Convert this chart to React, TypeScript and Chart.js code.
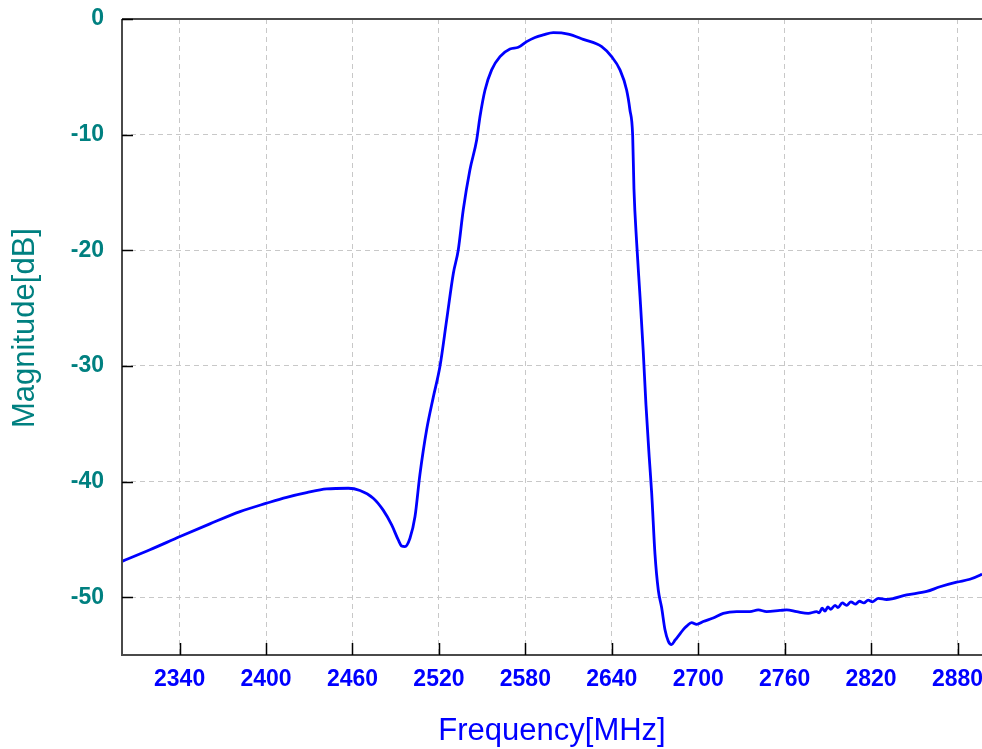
import React, { useEffect, useRef } from "react";
import { Chart, registerables } from "chart.js";

Chart.register(...registerables);

const frequencyMHz = [
  2300, 2319.4, 2340.3, 2361, 2381.9, 2400.4, 2414.3, 2428.2, 2442.1, 2457.1,
  2465.2, 2474.4, 2481.2, 2487.2, 2491.8, 2494.1, 2496.4, 2499.9, 2503.4, 2506.8,
  2511.5, 2516.1, 2520.7, 2525.4, 2530.0, 2533.4, 2536.9, 2541.5, 2546.2, 2548.5,
  2552.0, 2556.6, 2562.4, 2569.3, 2575.1, 2580.9, 2586.7, 2592.4, 2599.4, 2609.8,
  2620.2, 2633.0, 2639.9, 2645.7, 2650.3, 2652.6, 2654.5, 2655.4, 2657.3, 2659.6,
  2661.8, 2663.7, 2666.0, 2667.7, 2670.0, 2672.3, 2674.6, 2676.9, 2679.2, 2681.5,
  2684.0, 2687.2, 2689.6, 2692.0, 2695.4, 2698.9, 2703.5, 2710.4, 2717.4, 2726.7,
  2735.9, 2741.7, 2747.5, 2756.7, 2761.4, 2768.3, 2776.4, 2782.2, 2784, 2786,
  2788, 2790, 2792, 2795, 2797, 2800, 2803, 2806, 2809, 2812,
  2815, 2818, 2821, 2825, 2830.8, 2844.7, 2858.6, 2867.8, 2879.4, 2888.6,
  2895.5, 2897,
];

const magnitudeDb = [
  -46.9, -45.9, -44.76, -43.66, -42.6, -41.87, -41.36, -40.96, -40.64, -40.58,
  -40.78, -41.44, -42.45, -43.75, -45.05, -45.57, -45.62, -44.9, -43.03, -39.4,
  -35.5, -32.7, -30.06, -26.0, -22.0, -20.0, -16.5, -13.06, -10.46, -8.45,
  -6.14, -4.4, -3.26, -2.6, -2.45, -1.96, -1.6, -1.38, -1.18, -1.3,
  -1.76, -2.39, -3.26, -4.4, -6.14, -7.87, -10.1, -14.7, -19.4, -24.0,
  -28.65, -33.3, -37.9, -41.0, -46.3, -49.4, -50.9, -52.8, -53.8, -54.1,
  -53.7, -53.2, -52.8, -52.5, -52.2, -52.35, -52.1, -51.8, -51.4, -51.25,
  -51.25, -51.1, -51.25, -51.15, -51.1, -51.25, -51.4, -51.25, -51.35, -50.95,
  -51.2, -50.85, -51.05, -50.7, -50.9, -50.5, -50.7, -50.4, -50.6, -50.35,
  -50.5, -50.25, -50.4, -50.1, -50.2, -49.8, -49.5, -49.1, -48.7, -48.45,
  -48.1, -48.0,
];

const xTickValues = [2340, 2400, 2460, 2520, 2580, 2640, 2700, 2760, 2820, 2880];
const yTickValues = [-50, -40, -30, -20, -10, 0];

const xTitle = "Frequency[MHz]";
const yTitle = "Magnitude[dB]";

const TEAL = "#008080";
const BLUE = "#0000ff";
const FONT = '"Liberation Sans", Arial, sans-serif';

const framePlugin = {
  id: "frame",
  afterDraw(chart: any) {
    const { ctx, chartArea, scales } = chart;
    const { left, right, top, bottom } = chartArea;
    ctx.save();
    // frame
    ctx.setLineDash([]);
    ctx.strokeStyle = "#4a4a4a";
    ctx.lineWidth = 2;
    ctx.beginPath();
    ctx.moveTo(left, top);
    ctx.lineTo(right + 2, top);
    ctx.moveTo(left, top);
    ctx.lineTo(left, bottom);
    ctx.lineTo(right + 2, bottom);
    ctx.stroke();
    // inward tick marks
    ctx.strokeStyle = "#000";
    ctx.lineWidth = 1.5;
    ctx.beginPath();
    for (const v of xTickValues) {
      const px = Math.round(scales.x.getPixelForValue(v)) + 0.5;
      ctx.moveTo(px, bottom);
      ctx.lineTo(px, bottom - 12);
    }
    for (const v of yTickValues) {
      const py = Math.round(scales.y.getPixelForValue(v)) + 0.5;
      ctx.moveTo(left, py);
      ctx.lineTo(left + 11, py);
    }
    ctx.stroke();
    // axis titles
    ctx.font = `31px ${FONT}`;
    ctx.textAlign = "center";
    ctx.textBaseline = "alphabetic";
    ctx.fillStyle = BLUE;
    ctx.fillText(xTitle, (left + right) / 2, chart.height - 9);
    ctx.translate(34, (top + bottom) / 2 - 9);
    ctx.rotate(-Math.PI / 2);
    ctx.fillStyle = TEAL;
    ctx.fillText(yTitle, 0, 0);
    ctx.restore();
  },
};

export default function App() {
  const ref = useRef<HTMLCanvasElement>(null);

  useEffect(() => {
    document.body.style.margin = "0";
    const points = frequencyMHz.map((f, i) => ({ x: f, y: magnitudeDb[i] }));
    const chart = new Chart(ref.current as HTMLCanvasElement, {
      type: "line",
      data: {
        datasets: [
          {
            data: points,
            borderColor: BLUE,
            borderWidth: 2.8,
            pointRadius: 0,
            fill: false,
            cubicInterpolationMode: "monotone",
          },
        ],
      },
      options: {
        animation: false,
        responsive: true,
        maintainAspectRatio: false,
        layout: { padding: { top: 19, right: 0, left: 0, bottom: 0 } },
        plugins: {
          legend: { display: false },
          tooltip: { enabled: false },
        },
        scales: {
          x: {
            type: "linear",
            min: 2300,
            max: 2897,
            afterBuildTicks: (scale: any) => {
              scale.ticks = xTickValues.map((v) => ({ value: v }));
            },
            afterFit: (scale: any) => {
              scale.height = 94;
              scale.paddingLeft = 0;
              scale.paddingRight = 0;
            },
            grid: {
              color: "#c8c8c8",
              lineWidth: 1,
              drawTicks: false,
            },
            border: { display: false, dash: [5, 4] },
            ticks: {
              autoSkip: false,
              maxRotation: 0,
              padding: 11,
              color: BLUE,
              font: { family: FONT, size: 23, weight: "bold" },
              callback: (v: any) => String(v),
            },
          },
          y: {
            type: "linear",
            min: -55,
            max: 0,
            afterBuildTicks: (scale: any) => {
              scale.ticks = yTickValues.map((v) => ({ value: v }));
            },
            afterFit: (scale: any) => {
              scale.width = 122;
              scale.paddingTop = 0;
              scale.paddingBottom = 0;
            },
            grid: {
              color: "#c8c8c8",
              lineWidth: 1,
              drawTicks: false,
            },
            border: { display: false, dash: [5, 4] },
            ticks: {
              padding: 18,
              color: TEAL,
              font: { family: FONT, size: 23, weight: "bold" },
              callback: (v: any) => String(v),
            },
          },
        },
      },
      plugins: [framePlugin],
    });
    return () => chart.destroy();
  }, []);

  return (
    <div
      style={{
        position: "absolute",
        left: 0,
        top: 0,
        width: 982,
        height: 749,
        background: "#ffffff",
      }}
    >
      <canvas ref={ref} />
    </div>
  );
}
